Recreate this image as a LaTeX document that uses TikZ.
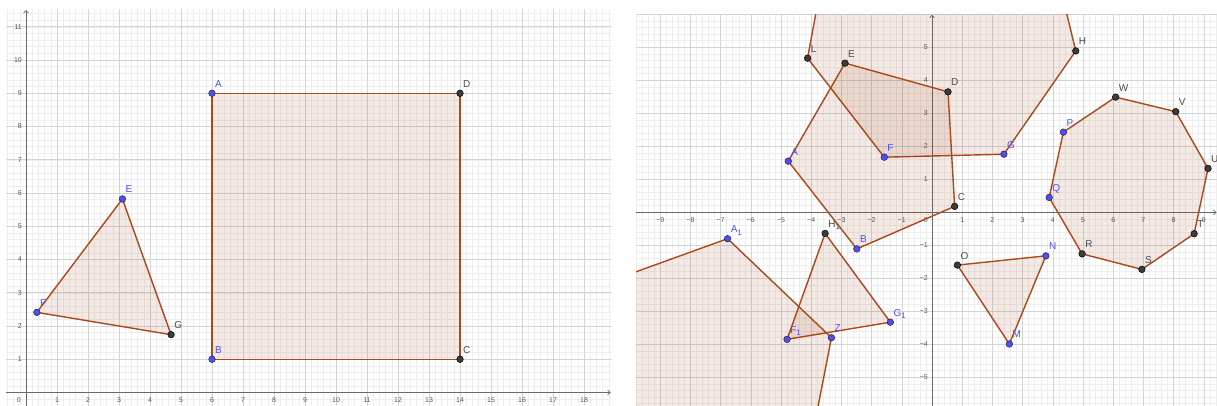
\documentclass[tikz,border=0pt]{standalone}
\usepackage{fontspec}
\setmainfont{Liberation Sans}
\usetikzlibrary{arrows.meta}
\definecolor{polyc}{RGB}{153,51,0}
\definecolor{polyline}{RGB}{172,72,26}
\definecolor{bluept}{RGB}{77,77,255}
\definecolor{darkpt}{RGB}{60,60,60}
\definecolor{majorgrid}{RGB}{212,212,212}
\definecolor{minorgrid}{RGB}{238,238,238}
\definecolor{axisc}{RGB}{105,105,105}
\definecolor{ticklab}{RGB}{85,85,85}
\definecolor{darklab}{RGB}{75,75,75}
\tikzset{
  poly/.style={draw=polyline, line width=1.4pt, fill=polyc, fill opacity=0.1, line join=round},
  bpt/.style={circle, fill=bluept, draw=black!85, line width=0.5pt, inner sep=0pt, minimum size=6.6pt},
  dpt/.style={circle, fill=darkpt, draw=black, line width=0.5pt, inner sep=0pt, minimum size=6.6pt},
  blab/.style={anchor=base west, inner sep=0pt, xshift=3pt, yshift=6pt, text=bluept, font=\fontsize{10}{10}\selectfont},
  dlab/.style={anchor=base west, inner sep=0pt, xshift=3pt, yshift=6pt, text=darklab, font=\fontsize{10}{10}\selectfont},
  ticks/.style={font=\fontsize{7}{7}\selectfont, text=ticklab, inner sep=0pt},
  axisline/.style={draw=axisc, line width=0.7pt, -{Straight Barb[length=2.5pt,width=5pt]}},
  minorl/.style={draw=minorgrid, line width=0.45pt},
  majorl/.style={draw=majorgrid, line width=0.6pt},
}
\newcommand{\subone}{\raisebox{-2.5pt}{\fontsize{8}{8}\selectfont 1}}
\begin{document}
\begin{tikzpicture}[x=1pt,y=1pt]
\useasboundingbox (0,0) rectangle (1217,406);
\fill[white] (0,0) rectangle (1217,406);

% ================= LEFT PANEL =================
\begin{scope}[shift={(26pt,13.5pt)}, x=31pt, y=33.25pt]
 \begin{scope}
  \clip (-0.645,-0.406) rectangle (18.89,11.52);
  \foreach \i in {-3,...,94} \draw[minorl] (\i/5,-0.406) -- (\i/5,11.52);
  \foreach \i in {-2,...,57} \draw[minorl] (-0.645,\i/5) -- (18.89,\i/5);
  \foreach \i in {1,...,18} \draw[majorl] (\i,-0.406) -- (\i,11.52);
  \foreach \i in {1,...,11} \draw[majorl] (-0.645,\i) -- (18.89,\i);
  \draw[axisline] (0,-0.406) -- (0,11.5);
  \draw[axisline] (-0.645,0) -- (18.86,0);
  \foreach \i in {1,...,18} \node[ticks, anchor=north, yshift=-5pt] at (\i,0) {\i};
  \foreach \i in {1,...,11} \node[ticks, anchor=east, xshift=-4pt] at (0,\i) {\i};
  \node[ticks, anchor=north east, xshift=-5pt, yshift=-5pt] at (0,0) {0};

  \coordinate (lA) at (6,9);
  \coordinate (lB) at (6,1);
  \coordinate (lC) at (14,1);
  \coordinate (lD) at (14,9);
  \coordinate (lE) at (3.11,5.82);
  \coordinate (lF) at (0.35,2.41);
  \coordinate (lG) at (4.68,1.74);

  \draw[poly] (lA) -- (lD) -- (lC) -- (lB) -- cycle;
  \draw[poly] (lE) -- (lG) -- (lF) -- cycle;

  \node[bpt] (plA) at (lA) {};
  \node[bpt] (plB) at (lB) {};
  \node[dpt] (plC) at (lC) {};
  \node[dpt] (plD) at (lD) {};
  \node[bpt] (plE) at (lE) {};
  \node[bpt] (plF) at (lF) {};
  \node[dpt] (plG) at (lG) {};

  \node[blab] (tlA) at (lA) {A};
  \node[blab] (tlB) at (lB) {B};
  \node[dlab] (tlC) at (lC) {C};
  \node[dlab] (tlD) at (lD) {D};
  \node[blab] (tlE) at (lE) {E};
  \node[blab] (tlF) at (lF) {F};
  \node[dlab] (tlG) at (lG) {G};
 \end{scope}
\end{scope}

% ================= RIGHT PANEL =================
\begin{scope}[shift={(932pt,193.7pt)}, x=30.2pt, y=33pt]
 \begin{scope}
  \clip (-9.80,-5.87) rectangle (9.44,6.0);
  \foreach \i in {-49,...,47} \draw[minorl] (\i/5,-5.87) -- (\i/5,6.0);
  \foreach \i in {-29,...,30} \draw[minorl] (-9.80,\i/5) -- (9.44,\i/5);
  \foreach \i in {-9,...,9} \draw[majorl] (\i,-5.87) -- (\i,6.0);
  \foreach \i in {-5,...,6} \draw[majorl] (-9.80,\i) -- (9.44,\i);
  \draw[axisline] (0,-5.87) -- (0,5.98);
  \draw[axisline] (-9.80,0) -- (9.42,0);
  \foreach \i in {1,...,9} {
    \node[ticks, anchor=north, yshift=-5pt] at (\i,0) {\i};
    \node[ticks, anchor=north, yshift=-5pt] at (-\i,0) {−\i};
  }
  \foreach \i in {1,...,5} {
    \node[ticks, anchor=east, xshift=-4pt] at (0,\i) {\i};
    \node[ticks, anchor=east, xshift=-4pt] at (0,-\i) {−\i};
  }
  \node[ticks, anchor=north east, xshift=-4pt, yshift=-5pt] at (0,0) {0};

  \coordinate (rL) at (-4.12,4.67);
  \coordinate (rE) at (-2.88,4.52);
  \coordinate (rA) at (-4.76,1.55);
  \coordinate (rF) at (-1.58,1.67);
  \coordinate (rD) at (0.53,3.65);
  \coordinate (rC) at (0.75,0.18);
  \coordinate (rG) at (2.38,1.76);
  \coordinate (rH) at (4.76,4.89);
  \coordinate (rP) at (4.35,2.43);
  \coordinate (rW) at (6.08,3.49);
  \coordinate (rV) at (8.07,3.05);
  \coordinate (rU) at (9.14,1.33);
  \coordinate (rQ) at (3.88,0.45);
  \coordinate (rT) at (8.68,-0.65);
  \coordinate (rS) at (6.95,-1.73);
  \coordinate (rR) at (4.97,-1.26);
  \coordinate (rO) at (0.84,-1.60);
  \coordinate (rN) at (3.77,-1.32);
  \coordinate (rM) at (2.56,-3.99);
  \coordinate (rB) at (-2.49,-1.11);
  \coordinate (rA1) at (-6.77,-0.80);
  \coordinate (rH1) at (-3.54,-0.64);
  \coordinate (rG1) at (-1.38,-3.33);
  \coordinate (rF1) at (-4.80,-3.85);
  \coordinate (rZ) at (-3.33,-3.80);
  % off-screen vertices
  \coordinate (rLtop) at (-3.65,7);
  \coordinate (rHtop) at (4.20,7);
  \coordinate (rZbot) at (-4.01,-7);
  \coordinate (rCorner) at (-11,-7);
  \coordinate (rA1left) at (-11,-2.20);

  \draw[poly] (rF) -- (rL) -- (rLtop) -- (rHtop) -- (rH) -- (rG) -- cycle;
  \draw[poly] (rA) -- (rE) -- (rD) -- (rC) -- (rB) -- cycle;
  \draw[poly] (rP) -- (rW) -- (rV) -- (rU) -- (rT) -- (rS) -- (rR) -- (rQ) -- cycle;
  \draw[poly] (rO) -- (rN) -- (rM) -- cycle;
  \draw[poly] (rH1) -- (rG1) -- (rF1) -- cycle;
  \draw[poly] (rA1) -- (rZ) -- (rZbot) -- (rCorner) -- (rA1left) -- cycle;

  \foreach \n in {L,E,D,C,H,W,V,U,T,S,R,O,H1} \node[dpt] (pr\n) at (r\n) {};
  \foreach \n in {A,F,G,P,Q,N,M,B,A1,F1,Z,G1} \node[bpt] (pr\n) at (r\n) {};

  \foreach \n in {L,E,D,C,H,W,V,U,T,S,R,O} \node[dlab] (tr\n) at (r\n) {\n};
  \foreach \n in {A,F,G,P,Q,N,M,B,Z} \node[blab] (tr\n) at (r\n) {\n};
  \node[dlab] (trH1) at (rH1) {H\subone};
  \node[blab] (trA1) at (rA1) {A\subone};
  \node[blab] (trF1) at (rF1) {F\subone};
  \node[blab] (trG1) at (rG1) {G\subone};
 \end{scope}
\end{scope}
\end{tikzpicture}
\end{document}
